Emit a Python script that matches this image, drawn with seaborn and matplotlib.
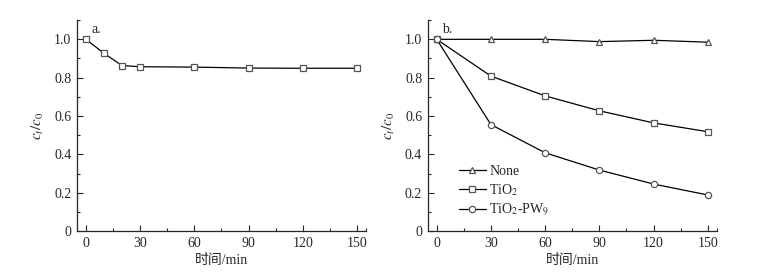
import matplotlib
matplotlib.use('agg')
import matplotlib.pyplot as plt
import seaborn as sns
import pandas as pd
from matplotlib.ticker import MultipleLocator, FixedLocator, FuncFormatter

# panel a: adsorption (dark)
time_a = [0, 10, 20, 30, 60, 90, 120, 150]
ratio_a = [1.0, 0.927, 0.863, 0.857, 0.855, 0.850, 0.849, 0.849]

# panel b: photocatalysis
time_b = [0, 30, 60, 90, 120, 150]
none_b = [1.0, 1.0, 1.0, 0.988, 0.995, 0.985]
tio2_b = [1.0, 0.808, 0.705, 0.627, 0.564, 0.518]
pw9_b = [1.0, 0.555, 0.408, 0.318, 0.245, 0.188]
series_names = ['None', 'TiO$_2$', 'TiO$_2$-PW$_9$']
series_markers = ['^', 's', 'o']

sns.set_theme(style='ticks')
plt.rcParams['font.family'] = ['Liberation Serif', 'Noto Sans CJK SC']
plt.rcParams['mathtext.fontset'] = 'stix'
plt.rcParams['font.size'] = 10
plt.rcParams['xtick.direction'] = 'in'
plt.rcParams['ytick.direction'] = 'in'

fig = plt.figure(figsize=(7.61, 2.76), dpi=100)
ax_a = fig.add_axes([0.101, 0.163, 0.380, 0.764])
ax_b = fig.add_axes([0.562, 0.163, 0.380, 0.764])

mk = dict(color='black', linewidth=0.9, markerfacecolor='white',
          markeredgecolor='#555555', markeredgewidth=0.9)

sns.lineplot(x=time_a, y=ratio_a, marker='s', markersize=4, ax=ax_a, **mk)

df_b = pd.DataFrame({'time': time_b * 3,
                     'ratio': none_b + tio2_b + pw9_b,
                     'sample': sum([[n] * len(time_b) for n in series_names], [])})
for name, m in zip(series_names, series_markers):
    sub = df_b[df_b['sample'] == name]
    sns.lineplot(data=sub, x='time', y='ratio', marker=m,
                 markersize=4.5 if m != 's' else 4, ax=ax_b, label=name, **mk)

fmt = FuncFormatter(lambda v, p: '0' if abs(v) < 1e-9 else f'{v:.1f}')
for ax, letter in [(ax_a, 'a.'), (ax_b, 'b.')]:
    ax.set_xlim(-5, 155)
    ax.set_ylim(0, 1.1)
    ax.xaxis.set_major_locator(MultipleLocator(30))
    ax.xaxis.set_minor_locator(FixedLocator([15, 45, 75, 105, 135, 155]))
    ax.yaxis.set_major_locator(MultipleLocator(0.2))
    ax.yaxis.set_minor_locator(MultipleLocator(0.1))
    ax.yaxis.set_major_formatter(fmt)
    ax.tick_params(which='major', length=4, width=0.8, labelsize=10, pad=4)
    ax.tick_params(which='minor', length=2.5, width=0.8)
    for s in ['top', 'right']:
        ax.spines[s].set_visible(False)
    for s in ['left', 'bottom']:
        ax.spines[s].set_linewidth(0.9)
    ax.set_xlabel('时间/min', fontsize=10, labelpad=3)
    ax.set_ylabel('$c_t/c_0$', fontsize=11, labelpad=6)
    ax.text(0.05, 0.955, letter, transform=ax.transAxes, fontsize=10, va='center')

ax_b.legend(loc='upper left', bbox_to_anchor=(0.09, 0.34), frameon=False,
            fontsize=10, handlelength=1.9, handletextpad=0.25, labelspacing=0.3,
            borderaxespad=0)

fig.savefig('out.png', dpi=100)
